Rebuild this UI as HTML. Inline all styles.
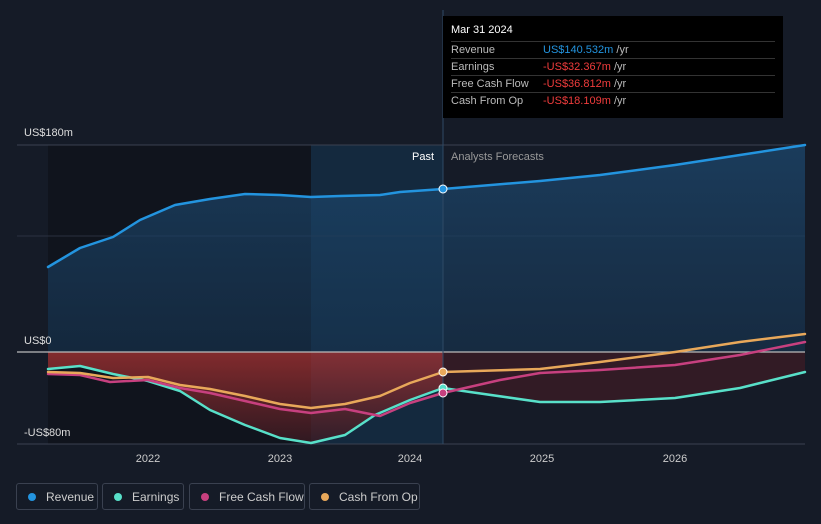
<!DOCTYPE html>
<html><head><meta charset="utf-8"><style>
html,body{margin:0;padding:0;background:#151b27;}
body{width:821px;height:524px;overflow:hidden;position:relative;font-family:"Liberation Sans",sans-serif;}
.tt{position:absolute;left:443px;top:16px;width:340px;height:102px;background:#000;color:#fff;font-size:11px;}
.tt .h{position:absolute;left:8px;top:8px;font-size:11px;}
.tt .r{position:absolute;left:8px;width:324px;height:17px;border-top:1px solid #333;color:#bbb;}
.tt .r span{position:absolute;left:92px;top:2px;}
.tt .r b{font-weight:normal;position:absolute;left:0;top:2px;}
.lg{position:absolute;top:483px;height:27px;border:1px solid #3a4150;border-radius:3px;color:#ccc;font-size:12px;line-height:27px;box-sizing:border-box;}
.lg i{display:inline-block;width:8px;height:8px;border-radius:50%;margin:0 10px 0 11px;vertical-align:0px;}
</style></head><body>
<svg width="821" height="524" style="position:absolute;left:0;top:0">
<defs>
<linearGradient id="rev" x1="0" y1="0" x2="0" y2="1"><stop offset="0" stop-color="#1d4a72" stop-opacity=".7"/><stop offset="1" stop-color="#173552" stop-opacity=".6"/></linearGradient>
<linearGradient id="neg" x1="0" y1="0" x2="0" y2="1"><stop offset="0" stop-color="#a83232"/><stop offset="1" stop-color="#3a1a22"/></linearGradient>
</defs>
<rect x="48" y="145" width="263" height="299" fill="#10141d"/>
<rect x="311" y="145" width="132" height="299" fill="#142d45" opacity=".8"/>
<line x1="17" y1="145" x2="805" y2="145" stroke="#3a4150"/>
<line x1="17" y1="236" x2="805" y2="236" stroke="#2a3140"/>
<path d="M48,267 L80,248 113,237 140,220 175,205 210,199 245,194 280,195 311,197 340,196 380,195 400,192 443,189 540,181 600,175 675,165 740,155 805,145 L805,352 48,352Z" fill="url(#rev)"/>
<path d="M48,352 L48,369 80,366 113,374 148,381 180,391 210,410 245,425 280,438 311,443 345,435 375,415 410,400 443,388 L443,352Z" fill="url(#neg)" opacity=".75"/>
<path d="M443,352 L443,388 470,392 540,402 600,402 675,398 740,388 805,372 L805,352Z" fill="#3a1c26" opacity=".8"/>
<line x1="17" y1="352" x2="805" y2="352" stroke="#bbb" stroke-width="1.2"/>
<line x1="17" y1="444" x2="805" y2="444" stroke="#3a4150"/>
<line x1="443" y1="10" x2="443" y2="444" stroke="#2e4a66"/>
<g fill="none" stroke-width="2.5" stroke-linejoin="round" stroke-linecap="round">
<polyline stroke="#2394df" points="48,267 80,248 113,237 140,220 175,205 210,199 245,194 280,195 311,197 340,196 380,195 400,192 443,189 540,181 600,175 675,165 740,155 805,145"/>
<polyline stroke="#58e0c9" points="48,369 80,366 113,374 148,381 180,391 210,410 245,425 280,438 311,443 345,435 375,415 410,400 443,388 470,392 540,402 600,402 675,398 740,388 805,372"/>
<polyline stroke="#c7407f" points="48,374 80,375 110,382 148,380 180,388 210,393 245,401 280,409 311,413 345,409 380,416 410,403 443,393 500,380 540,373 600,370 675,365 740,355 805,342"/>
<polyline stroke="#e8a85a" points="48,372 80,373 113,378 148,377 180,385 210,389 245,396 280,404 311,408 345,404 380,396 410,383 443,372 540,369 600,362 675,352 740,342 805,334"/>
</g>
<circle cx="443" cy="189" r="4" fill="#2394df" stroke="#fff"/>
<circle cx="443" cy="388" r="4" fill="#58e0c9" stroke="#fff"/>
<circle cx="443" cy="393" r="4" fill="#c7407f" stroke="#fff"/>
<circle cx="443" cy="372" r="4" fill="#e8a85a" stroke="#fff"/>
<g font-family="Liberation Sans" font-size="11" fill="#ddd">
<text x="24" y="136">US$180m</text>
<text x="24" y="344">US$0</text>
<text x="24" y="436">-US$80m</text>
<text x="434" y="160" text-anchor="end" fill="#fff">Past</text>
<text x="451" y="160" fill="#999">Analysts Forecasts</text>
<g text-anchor="middle" fill="#ccc"><text x="148" y="462">2022</text><text x="280" y="462">2023</text><text x="410" y="462">2024</text><text x="542" y="462">2025</text><text x="675" y="462">2026</text></g>
</g>
</svg>
<div class="tt"><div class="h">Mar 31 2024</div>
<div class="r" style="top:25px"><b>Revenue</b><span style="color:#2394df">US$140.532m <span style="position:static;color:#bbb">/yr</span></span></div>
<div class="r" style="top:42px"><b>Earnings</b><span style="color:#f03c3c">-US$32.367m <span style="position:static;color:#bbb">/yr</span></span></div>
<div class="r" style="top:59px"><b>Free Cash Flow</b><span style="color:#f03c3c">-US$36.812m <span style="position:static;color:#bbb">/yr</span></span></div>
<div class="r" style="top:76px"><b>Cash From Op</b><span style="color:#f03c3c">-US$18.109m <span style="position:static;color:#bbb">/yr</span></span></div>
</div>
<div class="lg" style="left:16px;width:82px"><i style="background:#2394df"></i>Revenue</div>
<div class="lg" style="left:102px;width:82px"><i style="background:#58e0c9"></i>Earnings</div>
<div class="lg" style="left:189px;width:116px"><i style="background:#c7407f"></i>Free Cash Flow</div>
<div class="lg" style="left:309px;width:111px"><i style="background:#e8a85a"></i>Cash From Op</div>
</body></html>
